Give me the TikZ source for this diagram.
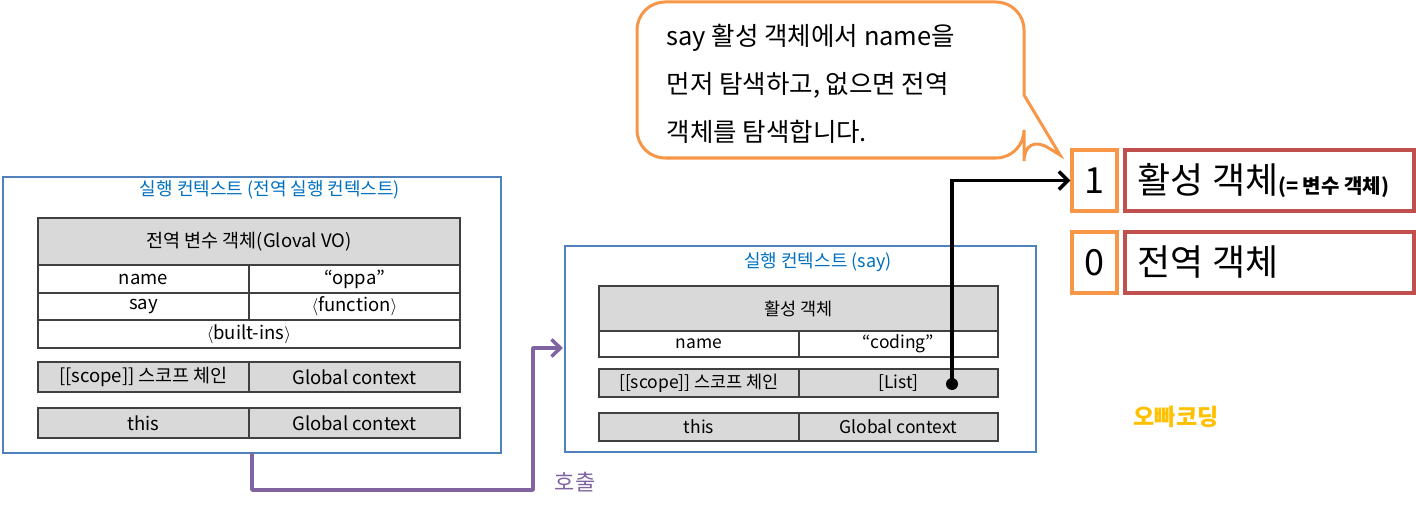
\documentclass[tikz,border=0pt]{standalone}
\usepackage{fontspec}
\setmainfont{Noto Sans CJK KR}
\usetikzlibrary{arrows.meta}
\definecolor{ctxblue}{HTML}{4F81BD}
\definecolor{titleblue}{HTML}{0070C0}
\definecolor{cellgray}{HTML}{D9D9D9}
\definecolor{callpurple}{HTML}{8064A2}
\definecolor{noteorange}{HTML}{F79646}
\definecolor{stackred}{HTML}{C0504D}
\definecolor{logogold}{HTML}{FFC000}
\begin{document}
\begin{tikzpicture}[x=1pt,y=-1pt,
  ctx/.style={draw=ctxblue,line width=1.6,inner sep=0},
  ctxtitle/.style={text=titleblue,font=\fontsize{18}{21}\selectfont},
  cell/.style={draw=black!75,line width=1.3,inner sep=0,font=\fontsize{18.5}{22}\selectfont},
  rcell/.style={cell,font=\fontsize{17.5}{21}\selectfont},
  gcell/.style={fill=cellgray},
  numbox/.style={draw=noteorange,line width=3.5,minimum width=45,minimum height=61,inner sep=0,font=\fontsize{36}{40}\selectfont},
  objbox/.style={draw=stackred,line width=3.5,minimum width=289,minimum height=61,inner xsep=12,text width=265,align=left,font=\fontsize{36}{40}\selectfont}]
  \useasboundingbox (0,0) rectangle (1416,508);
  % global execution context
  \node[ctx,minimum width=498,minimum height=276] (gctx) at (252,315) {};
  \node[ctxtitle] (gtitle) at (270,190) {실행 컨텍스트 (전역 실행 컨텍스트)};
  \node[cell,gcell,minimum width=422,minimum height=47] (gvo) at (249,241.5) {전역 변수 객체(Gloval VO)};
  \node[cell,minimum width=211,minimum height=28] (gnamek) at (143.5,279) {name};
  \node[cell,minimum width=211,minimum height=28] (gnamev) at (354.5,279) {“oppa”};
  \node[cell,minimum width=211,minimum height=27] (gsayk) at (143.5,306.5) {say};
  \node[cell,minimum width=211,minimum height=27] (gsayv) at (354.5,306.5) {$\langle$function$\rangle$};
  \node[cell,minimum width=422,minimum height=28] (gbuilt) at (249,334) {$\langle$built-ins$\rangle$};
  \node[cell,gcell,minimum width=211,minimum height=30] (gscopek) at (143.5,377) {[[scope]] 스코프 체인};
  \node[cell,gcell,minimum width=211,minimum height=30] (gscopev) at (354.5,377) {Global context};
  \node[cell,gcell,minimum width=211,minimum height=30] (gthisk) at (143.5,423) {this};
  \node[cell,gcell,minimum width=211,minimum height=30] (gthisv) at (354.5,423) {Global context};
  % say execution context
  \node[ctx,minimum width=471,minimum height=206] (sctx) at (800.5,349) {};
  \node[ctxtitle] (stitle) at (818,262) {실행 컨텍스트 (say)};
  \node[rcell,gcell,minimum width=399,minimum height=45] (sao) at (798.5,308.5) {활성 객체};
  \node[rcell,minimum width=200,minimum height=26] (snamek) at (699,344) {name};
  \node[rcell,minimum width=199,minimum height=26] (snamev) at (898.5,344) {“coding”};
  \node[rcell,gcell,minimum width=200,minimum height=28] (sscopek) at (699,383) {[[scope]] 스코프 체인};
  \node[rcell,gcell,minimum width=199,minimum height=28] (sscopev) at (898.5,383) {[List]};
  \node[rcell,gcell,minimum width=200,minimum height=28] (sthisk) at (699,427) {this};
  \node[rcell,gcell,minimum width=199,minimum height=28] (sthisv) at (898.5,427) {Global context};
  % call
  \coordinate (callfrom) at (252,453);
  \coordinate (callto) at (563,348);
  \draw[callpurple,line width=3.5,line join=round,-{Straight Barb[length=9pt,width=17pt]}] (callfrom) -- (252,490) -- (533,490) -- (533,348) -- (callto);
  \node[text=callpurple,font=\fontsize{22}{26}\selectfont] (calllbl) at (575,482) {호출};
  % scope chain list
  \node[numbox] (n1) at (1094.5,180.5) {1};
  \node[objbox] (o1) at (1269.5,180.5) {활성\hspace{9pt}객체{\bfseries\fontsize{20}{22}\selectfont(=\hspace{4pt}변수\hspace{5pt}객체)}};
  \node[numbox] (n0) at (1094.5,262.5) {0};
  \node[objbox] (o0) at (1269.5,262.5) {전역\hspace{9pt}객체};
  \node[circle,fill,inner sep=0,minimum size=12] (lstdot) at (952,384) {};
  \draw[line width=3.5,-{Straight Barb[length=9pt,width=18pt]}] (lstdot.center) |- (n1.west);
  % note
  \node[anchor=west,align=left,font=\fontsize{25.5}{48}\selectfont] (note) at (663,84) {say 활성 객체에서 name을\\먼저 탐색하고, 없으면 전역\\객체를 탐색합니다.};
  \draw[noteorange,line width=3] (1024,95) [rounded corners=28] -- (1024,2) -- (637,2) -- (637,158) -- (1024,158) -- (1024,133) [sharp corners] -- (1060,155) -- cycle;
  \node[text=logogold,font=\bfseries\fontsize{23}{26}\selectfont] (logo) at (1176,417) {오빠코딩};
\end{tikzpicture}
\end{document}
